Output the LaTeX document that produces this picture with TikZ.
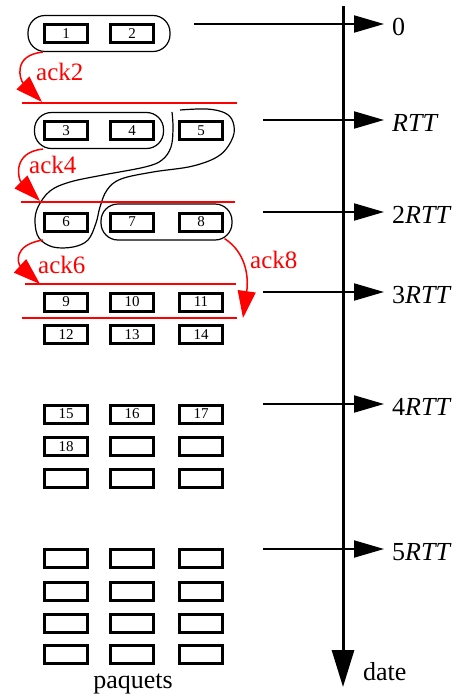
\documentclass[tikz,border=0pt]{standalone}
\usepackage{fontspec}
\setmainfont{Liberation Serif}
\newfontfamily\policeserif{Liberation Serif}
\usepackage{tikz}
\usetikzlibrary{arrows.meta, fit}
\tikzset{
    paquet/.style={draw, line width=3pt, minimum width=43pt, minimum height=18pt,
        inner sep=0pt, font=\policeserif\fontsize{15}{15}\selectfont},
    groupe/.style={draw, line width=1.2pt, rounded corners=17pt, inner ysep=7.5pt},
    ack/.style={red, line width=1.5pt, -{Triangle[length=27pt, width=18pt]}},
    acklabel/.style={red, anchor=base west, inner sep=0pt, font=\policeserif\fontsize{25}{25}\selectfont},
    ackline/.style={red, line width=2pt},
    tick/.style={line width=2pt, -{Triangle[length=30pt, width=17pt]}},
    axe/.style={line width=3pt, -{Triangle[length=37pt, width=22pt]}},
    datelabel/.style={anchor=base west, inner sep=0pt, font=\policeserif\fontsize{26}{26}\selectfont}
}

\begin{document}
\begin{tikzpicture}[x=1pt, y=-1pt]
            \useasboundingbox (0,0) rectangle (462,696);

            % paquets numerotes
            \foreach \n/\x/\y in {1/66/33.5, 2/132/33.5,
                    3/66/130.5, 4/132/130.5, 5/201/130.5,
                    6/66/222, 7/132/222, 8/201/222,
                    9/66/302, 10/132/302, 11/201/302,
                    12/66/334.5, 13/132/334.5, 14/201/334.5,
                    15/66/414, 16/132/414, 17/201/414,
                    18/66/446.5}
                \node[paquet] (p\n) at (\x,\y) {\n};

            % paquets vides
            \node[paquet] (v1) at (132,446.5) {};
            \node[paquet] (v2) at (201,446.5) {};
            \foreach \c/\x in {1/66, 2/132, 3/201}
                \foreach \r/\y in {1/478.5, 2/558.5, 3/591, 4/623, 5/654.5}
                    \node[paquet] (v\c\r) at (\x,\y) {};

            \node[datelabel, anchor=base] (paquets) at (133,688) {paquets};

            % groupes
            \node[groupe, inner xsep=15pt, fit=(p1)(p2)] (g12) {};
            \node[groupe, inner xsep=8.5pt, fit=(p3)(p4)] (g34) {};
            \node[groupe, inner xsep=8pt, fit=(p7)(p8)] (g78) {};
            \draw[line width=1.2pt] plot[smooth, tension=0.6] coordinates {
                (172,112) (173,128) (171,147) (162,160) (145,167) (103,175)
                (70,182) (50,191) (38,207) (35,222) (39,238) (53,247) (73,247)
                (88,240) (96,223) (100,207) (107,190) (121,179) (153,172)
                (193,166) (220,155) (233,137) (233,122) (225,113) (207,109) (180,110)};

            % acquittements
            \draw[ackline] (22,103) -- (237,103);
            \draw[ackline] (21,202) -- (235,202);
            \draw[ackline] (25,284) -- (236,284);
            \draw[ackline] (22,318) -- (237,318);

            \coordinate (a2) at (42,102);
            \coordinate (a4) at (40,201);
            \coordinate (a6) at (40,284);
            \coordinate (a8) at (243,318);
            \draw[ack] (g12.south -| p1.west) .. controls (12,55) and (20,80) .. (a2);
            \draw[ack] (g34.south -| p3.west) .. controls (12,152) and (18,179) .. (a4);
            \draw[ack] (43,240) .. controls (12,245) and (18,264) .. (a6);
            \draw[ack] (g78.south east) ++(-8,-2) .. controls (245,252) and (249,275) .. (a8);
            \node[acklabel] (l2) at (36,80) {ack2};
            \node[acklabel] (l4) at (29,173) {ack4};
            \node[acklabel] (l6) at (38,273) {ack6};
            \node[acklabel] (l8) at (250,268) {ack8};

            % axe des temps
            \coordinate (haut) at (343,6);
            \coordinate (bas) at (343,687);
            \draw[axe] (haut) -- (bas);
            \node[datelabel] (date) at (363,680) {date};

            \foreach \i/\xs/\y/\lbl in {0/194/24/0, 1/263/120/\textit{RTT},
                    2/263/212/2\textit{RTT}, 3/263/292/3\textit{RTT},
                    4/263/404/4\textit{RTT}, 5/263/549/5\textit{RTT}} {
                \coordinate (d\i) at (\xs,\y);
                \coordinate (f\i) at (384,\y);
                \draw[tick] (d\i) -- (f\i);
                \node[datelabel] (t\i) at (392,\y+11.5) {\lbl};
            }
        \end{tikzpicture}
\end{document}
